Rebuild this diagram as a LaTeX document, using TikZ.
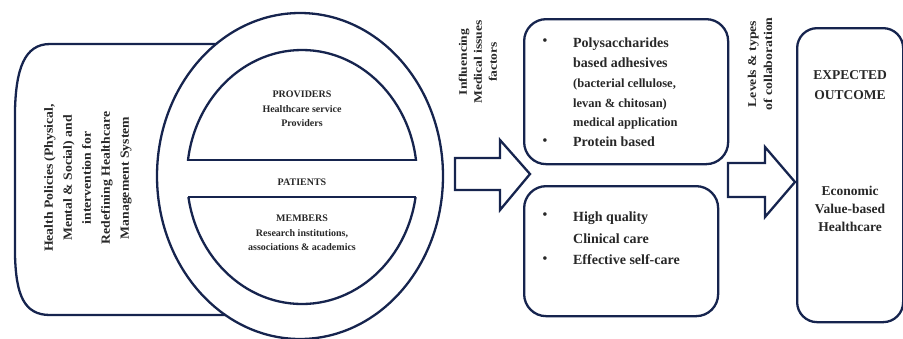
\documentclass[tikz,border=0pt]{standalone}
\usepackage{fontspec}
\setmainfont{Liberation Serif}
\usetikzlibrary{shapes.geometric}
\definecolor{navy}{RGB}{22,36,78}
\definecolor{txt}{RGB}{40,40,40}
\newcommand{\hstretch}[2]{\scalebox{#1}[1]{#2}}
\begin{document}
\begin{tikzpicture}[x=1pt,y=-1pt,line width=2.3pt,
  every node/.style={text=txt,inner sep=0pt},
  outline/.style={draw=navy,fill=white},
  roundbox/.style={draw=navy,fill=white,rounded corners=22pt,anchor=north west},
  circtxt/.style={font=\fontsize{10}{14.5}\selectfont\bfseries,align=center},
  rottxt/.style={align=center,rotate=90},
  boxline/.style={anchor=base west},
  bigtxt/.style={font=\fontsize{14}{18}\selectfont\bfseries},
  smalltxt/.style={font=\fontsize{12.5}{16}\selectfont\bfseries},
  bul/.style={font=\fontsize{15}{15}\selectfont}]
\useasboundingbox (0,0) rectangle (903,338);
% left policy shape
\draw[navy] (250,44) -- (50,44) .. controls (24,44) and (16,70) .. (15,110) -- (15,255)
  .. controls (16,295) and (24,315) .. (50,315) -- (250,315);
\node[rottxt,font=\fontsize{12.5}{19}\selectfont\bfseries] (policy) at (88,178)
  {\hstretch{1.1}{Health Policies (Physical,}\\\hstretch{1.1}{Mental \& Social) and}\\
   \hstretch{1.1}{intervention for}\\\hstretch{1.1}{Redefining Healthcare}\\
   \hstretch{1.1}{Management System}};
% outer ellipse
\node[outline,ellipse,minimum width=286pt,minimum height=326pt] (outer) at (300,176) {};
% inner ellipse split into two caps
\begin{scope}
  \clip (150,0) rectangle (450,160);
  \draw[navy] (302,177) ellipse [x radius=115pt, y radius=127pt];
\end{scope}
\begin{scope}
  \clip (150,197) rectangle (450,338);
  \draw[navy] (302,177) ellipse [x radius=115pt, y radius=127pt];
\end{scope}
\coordinate (ul) at (188,160); \coordinate (ur) at (416,160);
\coordinate (ll) at (188.4,197); \coordinate (lr) at (415.6,197);
\draw[navy] (ul) -- (ur);
\draw[navy] (ll) -- (lr);
\node[circtxt] (prov) at (302,109) {PROVIDERS\\Healthcare service\\Providers};
\node[circtxt] (pat) at (302,182) {PATIENTS};
\node[circtxt] (mem) at (302,233) {MEMBERS\\Research institutions,\\associations \& academics};
% arrow 1
\draw[navy,fill=white] (455,158) -- (500,158) -- (500,140) -- (530,174) -- (500,210) -- (500,190) -- (455,190) -- cycle;
\node[rottxt,font=\fontsize{11.5}{15}\selectfont\bfseries] (lab1) at (478,62)
  {\hstretch{1.18}{Influencing}\\\hstretch{1.18}{Medical issues}\\\hstretch{1.18}{factors}};
% middle boxes
\node[roundbox,minimum width=204pt,minimum height=145pt] (top) at (523,18) {};
\node[roundbox,minimum width=194pt,minimum height=130pt] (bot) at (523,185) {};
\node[bul] (b1) at (545,42) {\textbullet};
\node[bul] (b2) at (545,142) {\textbullet};
\node[bul] (b3) at (545,216) {\textbullet};
\node[bul] (b4) at (545,260) {\textbullet};
\node[boxline,bigtxt] (t1) at (572,47) {Polysaccharides};
\node[boxline,bigtxt] (t2) at (572,67) {based adhesives};
\node[boxline,smalltxt] (t3) at (572,87) {(bacterial cellulose,};
\node[boxline,smalltxt] (t4) at (572,107) {levan \& chitosan)};
\node[boxline,smalltxt] (t5) at (572,126) {medical application};
\node[boxline,bigtxt] (t6) at (572,146) {Protein based};
\node[boxline,bigtxt] (u1) at (572,221) {High quality};
\node[boxline,bigtxt] (u2) at (572,243) {Clinical care};
\node[boxline,bigtxt] (u3) at (572,264) {Effective self-care};
% arrow 2
\draw[navy,fill=white] (728,163) -- (765,163) -- (765,147) -- (795,182) -- (765,217) -- (765,197) -- (728,197) -- cycle;
\node[rottxt,font=\fontsize{12}{16}\selectfont\bfseries] (lab2) at (760,64)
  {\hstretch{1.15}{Levels \& types}\\\hstretch{1.15}{of collaboration}};
% outcome box
\node[roundbox,minimum width=106pt,minimum height=294pt,rounded corners=20pt] (out) at (796,27) {};
\node[font=\fontsize{13.5}{20}\selectfont\bfseries,align=center] (exp) at (850,85) {EXPECTED\\OUTCOME};
\node[font=\fontsize{13.5}{18}\selectfont\bfseries,align=center] (eco) at (850,209) {Economic\\Value-based\\Healthcare};
\end{tikzpicture}
\end{document}
